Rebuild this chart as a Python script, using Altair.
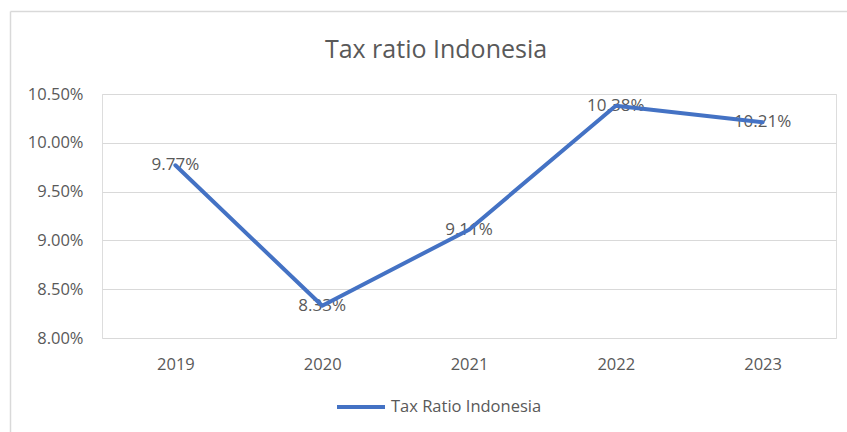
import altair as alt
import pandas as pd

years = ["2019", "2020", "2021", "2022", "2023"]
values = [0.0977, 0.0833, 0.0911, 0.1038, 0.1021]
series_name = "Tax Ratio Indonesia"
title_text = "Tax ratio Indonesia"
y_ticks = [0.08, 0.085, 0.09, 0.095, 0.10, 0.105]

df = pd.DataFrame({"year": years, "value": values, "series": [series_name] * len(years)})

FONT = "Open Sans"
GREY = "#595959"
BLUE = "#4472C4"
W, H = 734, 244

x = alt.X("year:O", sort=years, title=None,
          scale=alt.Scale(type="point", padding=0.5),
          axis=alt.Axis(labelAngle=0, grid=False, domain=False, ticks=False,
                        labelPadding=18, labelFontSize=16.5, labelColor=GREY, labelFont=FONT))
y = alt.Y("value:Q", title=None,
          scale=alt.Scale(domain=[0.08, 0.105], nice=False, zero=False),
          axis=alt.Axis(values=y_ticks, format=".2%", domain=False, ticks=False,
                        labelPadding=19, labelFontSize=16.5, labelColor=GREY, labelFont=FONT,
                        gridColor="#d9d9d9", gridWidth=1.2))

base = alt.Chart(df)

labels = base.mark_text(font=FONT, fontSize=17, color=GREY, baseline="middle", align="center").encode(
    x=x, y=y, text=alt.Text("value:Q", format=".2%")
)

line = base.mark_line(strokeWidth=4, strokeCap="round", strokeJoin="round").encode(
    x=x, y=y,
    color=alt.Color("series:N", scale=alt.Scale(range=[BLUE]),
                    legend=alt.Legend(title=None, orient="none", legendX=233, legendY=287,
                                      symbolType="stroke", symbolSize=2304, symbolStrokeWidth=4,
                                      labelFont=FONT, labelFontSize=16.5, labelColor=GREY,
                                      labelOffset=4, padding=0))
)

border_df = pd.DataFrame({"k": [0]})
border_left = alt.Chart(border_df).mark_rule(color="#d9d9d9", strokeWidth=1.5).encode(
    x=alt.value(-91.5), y=alt.value(-82.5), y2=alt.value(H + 120)
)
border_top = alt.Chart(border_df).mark_rule(color="#d9d9d9", strokeWidth=1.5).encode(
    x=alt.value(-91.5), x2=alt.value(W + 20), y=alt.value(-82.5)
)

chart = alt.layer(border_left, border_top, labels, line).properties(
    width=W, height=H,
    title=alt.TitleParams(title_text, anchor="middle", frame="group", baseline="alphabetic",
                          offset=0, dy=72.5, dx=-33, font=FONT, fontSize=25, fontWeight="normal", color=GREY),
    autosize=alt.AutoSizeParams(type="none"),
    padding={"left": 102, "top": 94, "right": 11, "bottom": 94},
).configure_view(stroke=None).configure(background="white")

chart.save("out.html", embed_options={"renderer": "svg", "actions": False})
